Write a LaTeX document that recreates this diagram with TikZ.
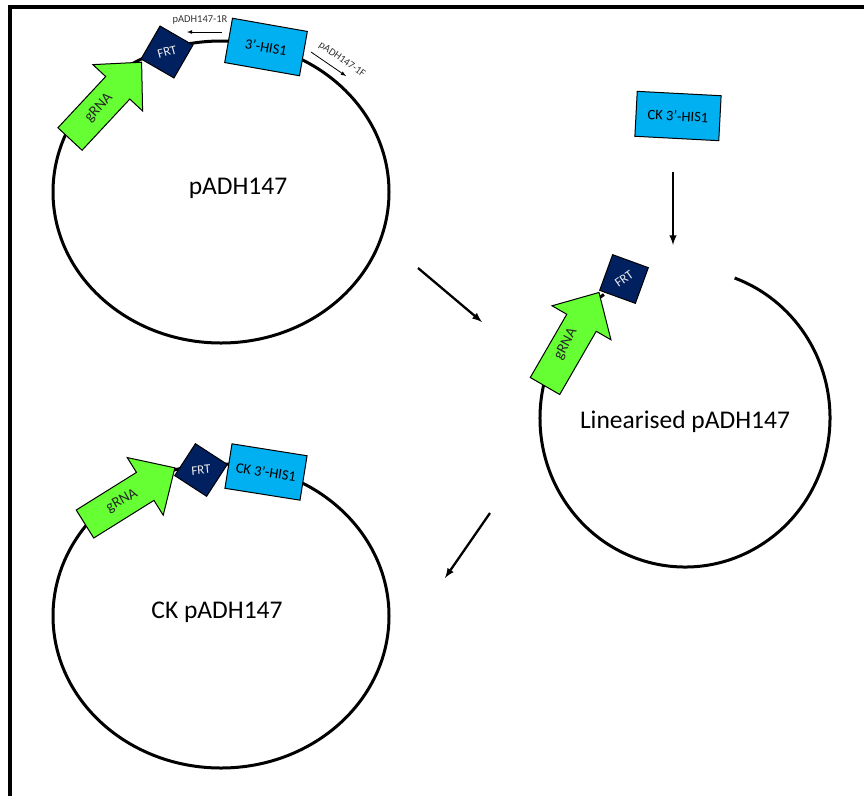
\documentclass[tikz,border=0pt]{standalone}
\usepackage{fontspec}
\setmainfont{Carlito}

\definecolor{frtblue}{HTML}{002060}
\definecolor{hisblue}{HTML}{00B0F0}
\definecolor{grnagreen}{HTML}{66FF33}

\begin{document}
\begin{tikzpicture}[x=1pt, y=-1pt,
    plasmid/.style={line width=3pt},
    flow/.style={-latex, line width=2.3pt},
    primer/.style={-latex, line width=0.8pt},
    primerlbl/.style={inner sep=0pt, text=black!80, font=\fontsize{10.5}{10.5}\selectfont},
    grna/.style={draw, line width=1pt, fill=grnagreen, line join=miter},
    grnalbl/.style={inner sep=0pt, text=black!85, font=\fontsize{15}{15}\selectfont},
    frt/.style={draw, fill=frtblue, line width=1pt},
    frtlbl/.style={inner sep=0pt, text=white!85!gray, font=\fontsize{13}{13}\selectfont},
    his/.style={draw, fill=hisblue, line width=1pt, minimum width=76pt, minimum height=45pt,
        inner sep=0pt, font=\fontsize{14.5}{14.5}\selectfont},
    plasname/.style={inner sep=0pt, font=\fontsize{25.5}{25.5}\selectfont}
]
    \useasboundingbox (0,0) rectangle (864,796);
    \draw[line width=4pt] (10,796) -- (10,7) -- (864,7);

    \coordinate (C1) at (221,192);
    \coordinate (C2) at (685,418);
    \coordinate (C3) at (221,616);

    % pADH147
    \draw[plasmid] (C1) ellipse [x radius=168, y radius=151];
    \node[plasname] (nameA) at (238,188) {pADH147};
    \node[primerlbl] (p1R) at (200,20) {pADH147-1R};
    \node[primerlbl, rotate=-35] (p1F) at (342,60) {pADH147-1F};
    \coordinate (p1Rs) at (222,32);
    \coordinate (p1Re) at (187,32);
    \coordinate (p1Fs) at (311,52);
    \coordinate (p1Fe) at (346,76);
    \draw[primer] (p1Rs) -- (p1Re);
    \draw[primer] (p1Fs) -- (p1Fe);
    \node[his, rotate=-10] (hisA) at (266,47) {3’-HIS1};
    \begin{scope}[shift={(167,52)}, rotate=-30]
        \draw[frt] (-19,-19) rectangle (19,19);
    \end{scope}
    \node[frtlbl, rotate=15] (frtA) at (167,52) {FRT};
    \begin{scope}[shift={(70,139)}, rotate=47]
        \draw[grna] (0,-16.5) -- (70,-16.5) -- (70,-34) -- (105,0) -- (70,34) -- (70,16.5) -- (0,16.5) -- cycle;
    \end{scope}
    \node[grnalbl, rotate=47] (grnaA) at (99,108) {gRNA};

    % linearised
    \draw[plasmid] (C2) ++(236:145 and 149) arc [start angle=236, end angle=-70, x radius=145, y radius=149];
    \node[plasname] (nameB) at (685,422) {Linearised pADH147};
    \begin{scope}[shift={(624,279)}, rotate=-20]
        \draw[frt] (-19,-19) rectangle (19,19);
    \end{scope}
    \node[frtlbl, rotate=35] (frtB) at (624,279) {FRT};
    \begin{scope}[shift={(545,386)}, rotate=60]
        \draw[grna] (0,-17) -- (73,-17) -- (73,-34) -- (108,0) -- (73,34) -- (73,17) -- (0,17) -- cycle;
    \end{scope}
    \node[grnalbl, rotate=62] (grnaB) at (566,344) {gRNA};
    \node[his, rotate=-3, minimum width=84pt] (hisCK) at (678,116) {CK 3’-HIS1};

    % CK pADH147
    \draw[plasmid] (C3) ellipse [x radius=168, y radius=152];
    \node[plasname] (nameC) at (217,612) {CK pADH147};
    \node[his, rotate=-9] (hisC) at (266,472) {CK 3’-HIS1};
    \begin{scope}[shift={(201,470)}, rotate=-33]
        \draw[frt] (-19,-19) rectangle (19,19);
    \end{scope}
    \node[frtlbl, rotate=5] (frtC) at (201,470) {FRT};
    \begin{scope}[shift={(85,524)}, rotate=32]
        \draw[grna] (0,-16.5) -- (71,-16.5) -- (71,-34) -- (106,0) -- (71,34) -- (71,16.5) -- (0,16.5) -- cycle;
    \end{scope}
    \node[grnalbl, rotate=30] (grnaC) at (122,501) {gRNA};

    \coordinate (f1s) at (418,268);
    \coordinate (f1e) at (482,322);
    \coordinate (f2s) at (490,513);
    \coordinate (f2e) at (445,578);
    \coordinate (f3s) at (673,172);
    \coordinate (f3e) at (673,245);
    \draw[flow] (f1s) -- (f1e);
    \draw[flow] (f2s) -- (f2e);
    \draw[flow] (f3s) -- (f3e);
\end{tikzpicture}
\end{document}
